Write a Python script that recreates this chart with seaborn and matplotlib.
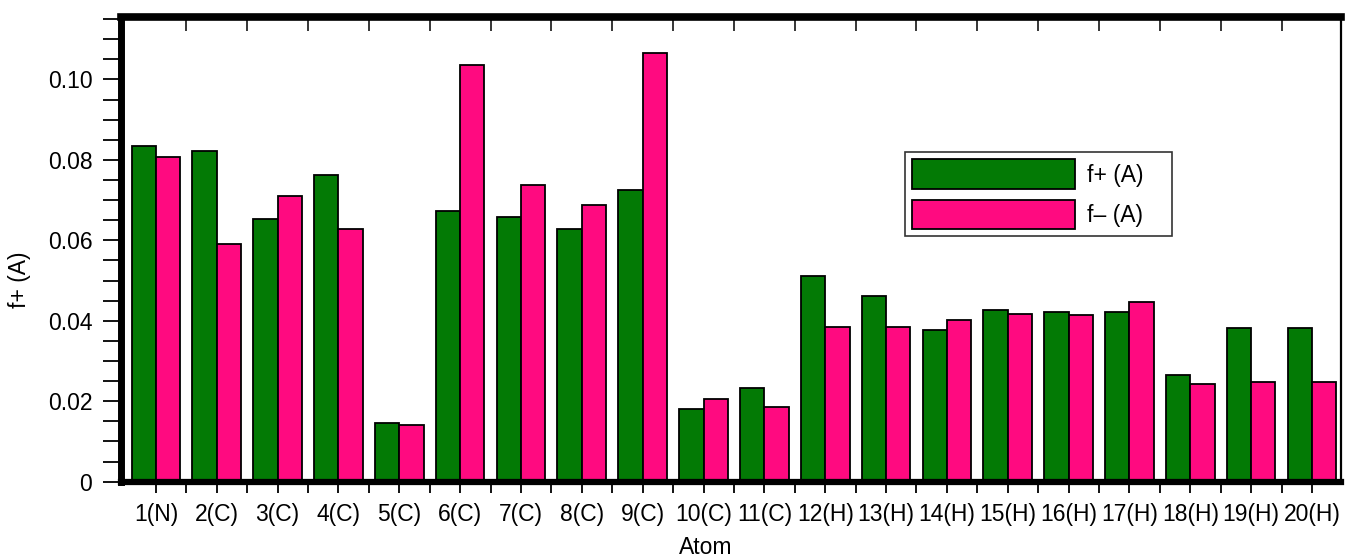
import matplotlib
matplotlib.use("Agg")
import matplotlib.pyplot as plt
from matplotlib.ticker import FixedLocator, MultipleLocator, FuncFormatter
import numpy as np
import pandas as pd
import seaborn as sns

# Condensed Fukui functions per atom
atoms = ["1(N)", "2(C)", "3(C)", "4(C)", "5(C)", "6(C)", "7(C)", "8(C)", "9(C)", "10(C)",
         "11(C)", "12(H)", "13(H)", "14(H)", "15(H)", "16(H)", "17(H)", "18(H)", "19(H)", "20(H)"]
f_plus = [0.0835, 0.0823, 0.0653, 0.0762, 0.0145, 0.0673, 0.0657, 0.0629, 0.0725, 0.0181,
          0.0232, 0.0512, 0.0462, 0.0377, 0.0427, 0.0422, 0.0422, 0.0264, 0.0381, 0.0381]
f_minus = [0.0808, 0.0592, 0.0710, 0.0629, 0.0141, 0.1037, 0.0737, 0.0689, 0.1065, 0.0205,
           0.0185, 0.0385, 0.0385, 0.0402, 0.0418, 0.0414, 0.0446, 0.0243, 0.0249, 0.0249]
series_names = ["f+ (A)", "f\u2013 (A)"]
series_colors = ["#037a05", "#ff0a80"]

df = pd.DataFrame({
    "Atom": atoms * 2,
    "value": f_plus + f_minus,
    "series": [series_names[0]] * len(atoms) + [series_names[1]] * len(atoms),
})

sns.set_style("ticks")
plt.rcParams["font.family"] = ["Liberation Sans", "DejaVu Sans"]
plt.rcParams["text.color"] = "black"
plt.rcParams["axes.labelcolor"] = "black"
FS = 16.5

fig = plt.figure(figsize=(13.45, 5.57), dpi=100)
ax = fig.add_axes([0.0903, 0.1352, 0.9067, 0.8334])

sns.barplot(data=df, x="Atom", y="value", hue="series", order=atoms,
            hue_order=series_names, palette=dict(zip(series_names, series_colors)),
            width=0.8, edgecolor="black", linewidth=1.3, saturation=1, ax=ax)

ax.set_xlim(-0.566, 19.476)
ax.set_ylim(0, 0.1154)

# y axis: majors every 0.02, minors every 0.005, outward
ax.yaxis.set_major_locator(MultipleLocator(0.02))
ax.yaxis.set_minor_locator(MultipleLocator(0.005))
ax.yaxis.set_major_formatter(FuncFormatter(lambda v, p: "0" if abs(v) < 1e-9 else f"{v:.2f}"))
ax.tick_params(axis="y", which="both", direction="out", length=13, width=1.3,
               labelsize=FS, pad=8, colors="black")

# x axis: labels at group centres, minor ticks between groups
ax.xaxis.set_minor_locator(FixedLocator(np.arange(len(atoms) - 1) + 0.5))
ax.tick_params(axis="x", which="both", direction="out", length=8, width=1.3,
               labelsize=FS, pad=7, colors="black", top=False)

# inward ticks on the top edge between groups
top = ax.secondary_xaxis("top")
top.set_xticks(np.arange(len(atoms) - 1) + 0.5)
top.set_xticklabels([])
top.tick_params(axis="x", direction="in", length=10, width=1.3)
top.spines["top"].set_visible(False)

for side, lw in (("left", 5), ("bottom", 4.5), ("top", 5.5), ("right", 1.6)):
    ax.spines[side].set_visible(True)
    ax.spines[side].set_linewidth(lw)
    ax.spines[side].set_color("black")

ax.set_xlabel("Atom", fontsize=FS, color="black")
ax.set_ylabel("f+ (A)", fontsize=FS, color="black")
ax.xaxis.set_label_coords(0.479, -0.118)
ax.yaxis.set_label_coords(-0.074, 0.435)

handles, labels = ax.get_legend_handles_labels()
if ax.get_legend() is not None:
    ax.get_legend().remove()
leg = ax.legend(handles, labels, loc="upper left",
                bbox_to_anchor=(0.6425, 0.7096, 0.219, 0.0), mode="expand",
                borderaxespad=0, fontsize=FS, handlelength=7.1, handleheight=1.62,
                labelspacing=0.47, borderpad=0.3, handletextpad=0.55,
                fancybox=False, frameon=True, framealpha=1)
leg.get_frame().set_edgecolor("#333333")
leg.get_frame().set_linewidth(1.2)
for t in leg.get_texts():
    t.set_color("black")

fig.savefig("out.png", dpi=100)
